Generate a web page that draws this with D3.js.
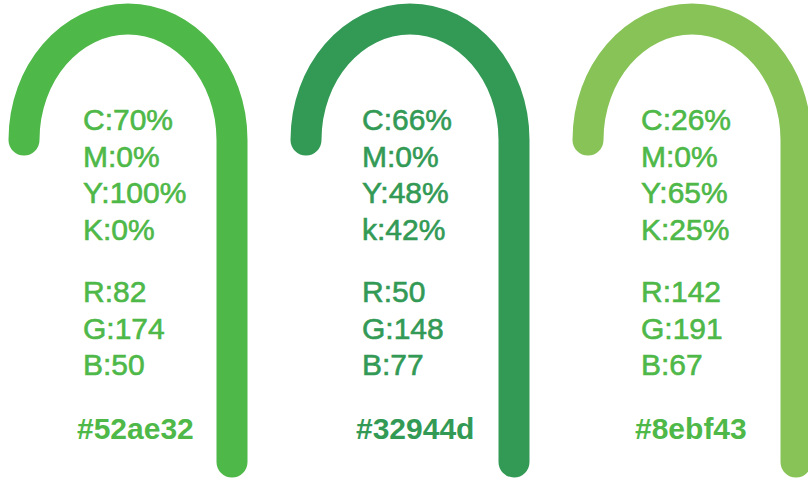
<!DOCTYPE html>
<html>
<head>
<meta charset="utf-8">
<script src="https://cdn.jsdelivr.net/npm/d3@7"></script>
<style>
html,body{margin:0;padding:0;background:#fff;}
svg{display:block;}
</style>
</head>
<body>
<svg id="chart" width="808" height="479"></svg>
<script>
// ---- data ----
const swatches = ["green", "darkGreen", "lightGreen"];
const cmykLabels = [
  ["C:70%", "M:0%", "Y:100%", "K:0%"],
  ["C:66%", "M:0%", "Y:48%", "k:42%"],
  ["C:26%", "M:0%", "Y:65%", "K:25%"]
];
const rgbLabels = [
  ["R:82", "G:174", "B:50"],
  ["R:50", "G:148", "B:77"],
  ["R:142", "G:191", "B:67"]
];
const hexLabels = ["#52ae32", "#32944d", "#8ebf43"];
const archColors = ["#4eb848", "#339a56", "#88c357"];
const textColors = ["#4eb848", "#339a56", "#4eb848"];

// ---- layout ----
const svg = d3.select("#chart");
const archX = d3.scalePoint().domain(swatches).range([24, 588]);
const textX = d3.scalePoint().domain(swatches).range([83, 641]);
const y = d3.scaleLinear().domain([0, 1]).range([0, 1]);
const archWidth = 208, archTop = 19, archSide = 140, archBottom = 462;
const cmykY = d3.scaleLinear().domain([0, 3]).range([130, 240]);
const rgbY = d3.scaleLinear().domain([0, 2]).range([302, 375]);
const FONT = "'Liberation Sans', Arial, sans-serif";

const g = svg.selectAll("g.sw").data(swatches).join("g").attr("class", "sw");

g.append("path")
  .attr("d", (d) => {
    const x0 = archX(d), x1 = x0 + archWidth;
    const p = d3.path();
    const rx = archWidth / 2, ry = y(archSide) - y(archTop);
    const k = 0.5523;
    p.moveTo(x0, y(archSide));
    p.bezierCurveTo(x0, y(archSide) - ry * k, x0 + rx - rx * k, y(archTop), x0 + rx, y(archTop));
    p.bezierCurveTo(x0 + rx + rx * k, y(archTop), x1, y(archSide) - ry * k, x1, y(archSide));
    p.lineTo(x1, y(archBottom));
    return p.toString();
  })
  .attr("fill", "none")
  .attr("stroke", (d, i) => archColors[i])
  .attr("stroke-width", 31)
  .attr("stroke-linecap", "round");

g.each(function (d, i) {
  const s = d3.select(this);
  s.selectAll("text.cmyk").data(cmykLabels[i]).join("text")
    .attr("class", "cmyk")
    .attr("x", textX(d))
    .attr("y", (t, j) => cmykY(j))
    .attr("fill", textColors[i])
    .attr("stroke", textColors[i])
    .attr("stroke-width", 0.6)
    .style("font-family", FONT)
    .style("font-size", "30px")
    .text((t) => t);
  s.selectAll("text.rgb").data(rgbLabels[i]).join("text")
    .attr("class", "rgb")
    .attr("x", textX(d))
    .attr("y", (t, j) => rgbY(j))
    .attr("fill", textColors[i])
    .attr("stroke", textColors[i])
    .attr("stroke-width", 0.6)
    .style("font-family", FONT)
    .style("font-size", "30px")
    .text((t) => t);
  s.append("text")
    .attr("x", textX(d) - 6)
    .attr("y", 439)
    .attr("fill", textColors[i])
    .style("font-family", FONT)
    .style("font-size", "30px")
    .style("font-weight", "bold")
    .text(hexLabels[i]);
});
</script>
</body>
</html>
